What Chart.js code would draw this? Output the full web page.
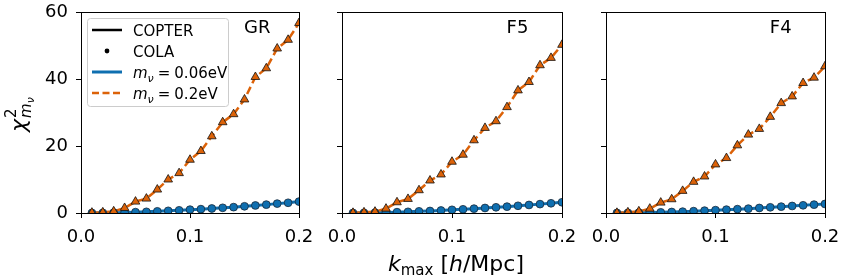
<!DOCTYPE html>
<html><head><meta charset="utf-8">
<script src="https://cdn.jsdelivr.net/npm/chart.js@4/dist/chart.umd.min.js"></script>
<style>
html,body{margin:0;padding:0;background:#fff;overflow:hidden;width:843px;height:279px;}
canvas{position:absolute;top:0;}
#xt{position:absolute;left:456px;top:264px;transform:translate(-50%,-50%);font-family:'DejaVu Sans';font-size:22px;white-space:nowrap;color:#000;line-height:1;}
#xt sub{font-size:15px;vertical-align:-0.25em;line-height:0;}
</style></head><body>
<canvas id="c1" width="319" height="279" style="left:0px"></canvas>
<canvas id="c2" width="260" height="279" style="left:322px"></canvas>
<canvas id="c3" width="257" height="279" style="left:586px"></canvas>
<div id="xt"><i>k</i><sub>max</sub> [<i>h</i>/Mpc]</div>
<script>
// k_max values [h/Mpc]
const kmax = [0.01,0.02,0.03,0.04,0.05,0.06,0.07,0.08,0.09,0.10,0.11,0.12,0.13,0.14,0.15,0.16,0.17,0.18,0.19,0.20];
// chi^2 for m_nu = 0.06 eV
const grLow  = [0.02,0.05,0.1,0.15,0.25,0.35,0.5,0.65,0.8,1.0,1.15,1.35,1.55,1.75,2.0,2.25,2.5,2.8,3.05,3.4];
const f5Low  = [0.02,0.05,0.1,0.15,0.25,0.35,0.5,0.6,0.75,0.95,1.1,1.3,1.5,1.7,1.9,2.15,2.4,2.65,2.9,3.2];
const f4Low  = [0.02,0.05,0.1,0.15,0.2,0.3,0.4,0.55,0.7,0.85,1.0,1.15,1.3,1.5,1.7,1.9,2.1,2.3,2.5,2.7];
// chi^2 for m_nu = 0.2 eV
const grHigh = [0.1,0.2,0.5,1.5,3.4,4.3,7.0,10.0,11.9,15.9,18.5,22.9,27.1,29.5,33.9,40.6,43.2,49.1,51.7,56.7];
const f5High = [0.05,0.2,0.4,1.3,3.2,4.2,6.8,9.7,11.5,15.3,17.4,21.7,25.4,27.4,31.6,36.6,39.1,44.1,46.3,50.2];
const f4High = [0.05,0.2,0.5,1.3,3.1,4.1,6.6,9.3,10.9,14.5,16.4,20.2,23.4,25.1,28.7,32.8,34.8,38.8,40.4,43.8];
// tick labels / panel names
const xTicks = [0.0,0.1,0.2];
const yTicks = [0,20,40,60];
const panelNames = ['GR','F5','F4'];
const legendLabels = ['COPTER','COLA','0.06eV','0.2eV'];

const BLUE = '#0f6fb0';
const ORANGE = '#dc6208';
const FONT = '"DejaVu Sans", sans-serif';

function pts(arr){ return kmax.map((k,i)=>({x:k,y:arr[i]})); }

function drawMnu(ctx, x, y, rest){
  ctx.font = 'italic 15px ' + FONT;
  ctx.fillText('m', x, y);
  let w = ctx.measureText('m').width;
  ctx.font = 'italic 11px ' + FONT;
  ctx.fillText('ν', x + w, y + 4);
  w += ctx.measureText('ν').width;
  ctx.font = '15px ' + FONT;
  ctx.fillText('=', x + w + 4, y);
  const we = ctx.measureText('=').width;
  const num = rest.replace('eV','');
  ctx.fillText(num, x + w + 4 + we + 4, y);
  const wn = ctx.measureText(num).width;
  ctx.fillText('eV', x + w + 4 + we + 4 + wn, y);
}

const deco = {
  id:'deco',
  afterDraw(chart, args, opts){
    const ctx = chart.ctx, a = chart.chartArea;
    ctx.save();
    ctx.strokeStyle = '#000'; ctx.lineWidth = 1;
    ctx.strokeRect(Math.round(a.left)+0.5, Math.round(a.top)+0.5, Math.round(a.right)-Math.round(a.left), Math.round(a.bottom)-Math.round(a.top));
    ctx.fillStyle = '#000';
    ctx.font = '18px ' + FONT;
    ctx.textBaseline = 'middle';
    ctx.textAlign = 'left';
    ctx.fillText(opts.name, a.left + 0.748*(a.right-a.left), a.top + 16);
    if (opts.legend){
      ctx.fillStyle = 'rgba(255,255,255,0.8)';
      ctx.strokeStyle = '#cccccc';
      ctx.beginPath();
      ctx.roundRect(87.5, 18.5, 141, 88, 3);
      ctx.fill(); ctx.stroke();
      const rows = [30, 51, 72, 93];
      const hx0 = 92, hx1 = 122, tx = 133;
      ctx.lineCap = 'butt';
      ctx.strokeStyle = '#000'; ctx.lineWidth = 2.5;
      ctx.beginPath(); ctx.moveTo(hx0, rows[0]); ctx.lineTo(hx1, rows[0]); ctx.stroke();
      ctx.fillStyle = '#000';
      ctx.beginPath(); ctx.arc((hx0+hx1)/2, rows[1], 2.4, 0, Math.PI*2); ctx.fill();
      ctx.strokeStyle = BLUE; ctx.lineWidth = 3;
      ctx.beginPath(); ctx.moveTo(hx0, rows[2]); ctx.lineTo(hx1, rows[2]); ctx.stroke();
      ctx.strokeStyle = ORANGE; ctx.lineWidth = 2.5; ctx.setLineDash([7,3.5]);
      ctx.beginPath(); ctx.moveTo(hx0, rows[3]); ctx.lineTo(hx1, rows[3]); ctx.stroke();
      ctx.setLineDash([]);
      ctx.fillStyle = '#000';
      ctx.textBaseline = 'alphabetic';
      ctx.font = '15px ' + FONT;
      ctx.fillText(legendLabels[0], tx, rows[0]+5.5);
      ctx.fillText(legendLabels[1], tx, rows[1]+5.5);
      drawMnu(ctx, tx, rows[2]+5.5, legendLabels[2]);
      drawMnu(ctx, tx, rows[3]+5.5, legendLabels[3]);
      // y title
      ctx.save();
      ctx.translate(26, 132);
      ctx.rotate(-Math.PI/2);
      ctx.font = 'italic 22px ' + FONT;
      ctx.fillText('χ', 0, 0);
      const wc = ctx.measureText('χ').width;
      ctx.font = '15px ' + FONT;
      ctx.fillText('2', wc + 1, -10);
      ctx.font = 'italic 15px ' + FONT;
      ctx.fillText('m', wc + 1, 5);
      const wm = ctx.measureText('m').width;
      ctx.font = 'italic 11px ' + FONT;
      ctx.fillText('ν', wc + 1 + wm, 8);
      ctx.restore();
    }
    ctx.restore();
  }
};

function makeChart(id, name, low, high, yw, padR, showY, legend){
  return new Chart(document.getElementById(id), {
    type:'line',
    data:{datasets:[
      {data:pts(high), showLine:false, pointStyle:'triangle', pointRadius:5, pointBackgroundColor:ORANGE, pointBorderColor:'#111', pointBorderWidth:0.8, order:0},
      {data:pts(low), showLine:false, pointStyle:'circle', pointRadius:3.9, pointBackgroundColor:BLUE, pointBorderColor:'#1a2a3a', pointBorderWidth:0.8, order:1},
      {data:pts(high), borderColor:ORANGE, borderWidth:2.5, borderDash:[8,4], pointRadius:0, tension:0, order:2},
      {data:pts(low), borderColor:BLUE, borderWidth:3, pointRadius:0, tension:0, order:3}
    ]},
    options:{
      responsive:false, animation:false, devicePixelRatio:1,
      layout:{padding:{left:0,right:padR,top:12,bottom:0}},
      plugins:{legend:{display:false}, tooltip:{enabled:false}, deco:{name:name, legend:legend}},
      scales:{
        x:{type:'linear', min:0, max:0.2,
           afterBuildTicks:(s)=>{ s.ticks = xTicks.map(v=>({value:v})); },
           afterFit:(s)=>{ s.height = 66; s.paddingLeft = 0; s.paddingRight = 0; },
           ticks:{callback:(v)=>Number(v).toFixed(1), color:'#000', font:{family:FONT,size:18}, padding:9, maxRotation:0, autoSkip:false},
           grid:{display:true, drawOnChartArea:false, drawTicks:true, tickLength:5, color:'#000', lineWidth:1},
           border:{display:false}},
        y:{type:'linear', min:0, max:60,
           afterBuildTicks:(s)=>{ s.ticks = yTicks.map(v=>({value:v})); },
           afterFit:(s)=>{ s.width = yw; s.paddingTop = 0; s.paddingBottom = 0; },
           ticks:{display:showY, color:'#000', font:{family:FONT,size:18}, padding:8},
           grid:{display:true, drawOnChartArea:false, drawTicks:true, tickLength:5, color:'#000', lineWidth:1},
           border:{display:false}}
      }
    },
    plugins:[deco]
  });
}
makeChart('c1', panelNames[0], grLow, grHigh, 81, 20, true, true);
makeChart('c2', panelNames[1], f5Low, f5High, 20, 20, false, false);
makeChart('c3', panelNames[2], f4Low, f4High, 20, 18, false, false);
</script>
</body></html>
